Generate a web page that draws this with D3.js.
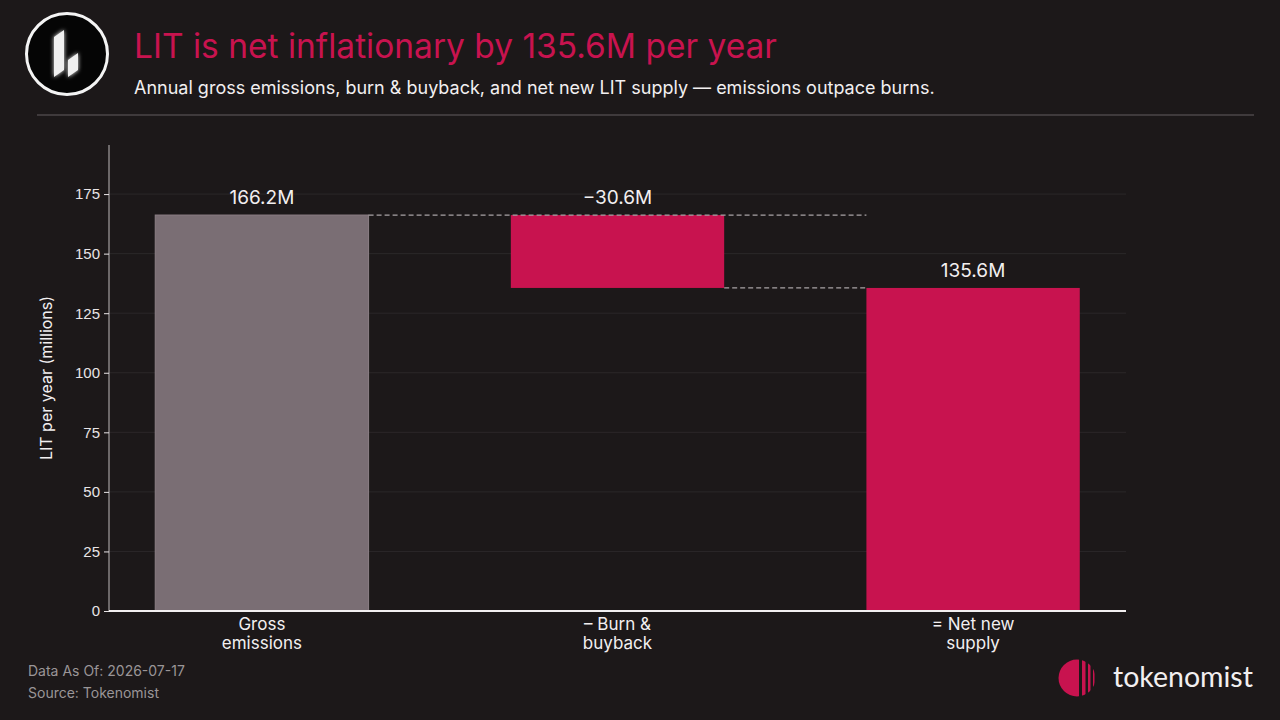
<!DOCTYPE html>
<head>
  <meta charset="utf-8">
  <style>
    body { margin: 0; background: #1c1819; }
    svg { display: block; font-family: Inter, 'Noto Sans', sans-serif; }
    .axis text { fill: #e8e4e6; font-size: 15px; }
  </style>
</head>
<body>
  <script src="https://cdn.jsdelivr.net/npm/d3@7"></script>
  <script>
    // chart data
    const categories = [["Gross", "emissions"], ["\u2013 Burn &", "buyback"], ["= Net new", "supply"]];
    const barBase = [0, 135.6, 0];
    const barTop = [166.2, 166.2, 135.6];
    const barLabels = ["166.2M", "\u221230.6M", "135.6M"];
    const barKinds = ["gross", "burn", "net"];
    const yTicks = [0, 25, 50, 75, 100, 125, 150, 175];
    const connectors = [{from: 0, to: 2, value: 166.2}, {from: 1, to: 2, value: 135.6}];

    const width = 1280, height = 720;
    const margin = {top: 145, right: 154, bottom: 109, left: 109};
    const innerWidth = width - margin.left - margin.right;
    const innerHeight = height - margin.top - margin.bottom;
    const barWidth = 0.6;
    const colors = {gross: "#7a6e74", burn: "#c8134f", net: "#c8134f"};

    const svg = d3.select("body").append("svg")
      .attr("width", width)
      .attr("height", height);

    svg.append("rect").attr("width", width).attr("height", height).attr("fill", "#1c1819");

    // ---------- header ----------
    const defs = svg.append("defs");
    const glow = defs.append("filter").attr("id", "glow")
      .attr("x", "-50%").attr("y", "-50%").attr("width", "200%").attr("height", "200%");
    glow.append("feGaussianBlur").attr("stdDeviation", 2).attr("result", "b");
    const merge = glow.append("feMerge");
    merge.append("feMergeNode").attr("in", "b");
    merge.append("feMergeNode").attr("in", "SourceGraphic");

    const logo = svg.append("g").attr("transform", "translate(67,54)");
    logo.append("circle").attr("r", 40.5).attr("fill", "#050505")
      .attr("stroke", "#f4f4f4").attr("stroke-width", 3);
    logo.append("path").attr("d", "M-13,-17 L-3,-24 L-3,16 L-13,23 Z")
      .attr("fill", "#f0f0f0").attr("filter", "url(#glow)");
    logo.append("path").attr("d", "M1,6 L11,-1 L11,16 L1,23 Z")
      .attr("fill", "#f0f0f0").attr("filter", "url(#glow)");

    svg.append("text").attr("x", 134).attr("y", 58)
      .attr("fill", "#c8134f").attr("font-size", 33.5)
      .text("LIT is net inflationary by 135.6M per year");
    svg.append("text").attr("x", 134).attr("y", 94)
      .attr("fill", "#f2eff0").attr("font-size", 18)
      .text("Annual gross emissions, burn & buyback, and net new LIT supply \u2014 emissions outpace burns.");
    svg.append("line").attr("x1", 37).attr("x2", 1254).attr("y1", 115).attr("y2", 115)
      .attr("stroke", "#3f3a3c").attr("stroke-width", 2);

    // ---------- chart ----------
    const g = svg.append("g").attr("transform", "translate(" + margin.left + "," + margin.top + ")");

    const xScale = d3.scaleLinear().domain([-0.43, 2.43]).range([0, innerWidth]);
    const yScale = d3.scaleLinear().domain([0, 195.6]).range([innerHeight, 0]);

    // grid
    g.append("g").selectAll("line").data(yTicks.slice(1)).enter().append("line")
      .attr("x1", 0).attr("x2", innerWidth)
      .attr("y1", d => yScale(d)).attr("y2", d => yScale(d))
      .attr("stroke", "#2b2729").attr("stroke-width", 1);

    // bars
    g.append("g").selectAll("rect").data(barTop).enter().append("rect")
      .attr("x", (d, i) => xScale(i - barWidth / 2))
      .attr("width", xScale(barWidth) - xScale(0))
      .attr("y", d => yScale(d))
      .attr("height", (d, i) => yScale(barBase[i]) - yScale(d))
      .attr("fill", (d, i) => colors[barKinds[i]])
      .attr("stroke", (d, i) => barKinds[i] === "gross" ? "#8c8086" : "none")
      .attr("stroke-width", 1);

    // connectors
    g.append("g").selectAll("line").data(connectors).enter().append("line")
      .attr("x1", d => xScale(d.from + barWidth / 2))
      .attr("x2", d => xScale(d.to - barWidth / 2))
      .attr("y1", d => yScale(d.value)).attr("y2", d => yScale(d.value))
      .attr("stroke", "#a8a2a5").attr("stroke-width", 1.2)
      .attr("stroke-dasharray", "5,3");

    // value labels
    g.append("g").selectAll("text").data(barLabels).enter().append("text")
      .attr("x", (d, i) => xScale(i))
      .attr("y", (d, i) => yScale(barTop[i]) - 11)
      .attr("text-anchor", "middle")
      .attr("fill", "#f2eff0").attr("font-size", 19)
      .text(d => d);

    // axes
    const yAxis = d3.axisLeft(yScale).tickValues(yTicks).tickSize(5).tickPadding(4);
    const ya = g.append("g").attr("class", "axis").call(yAxis);
    ya.select(".domain").attr("stroke", "#bdb8ba").attr("d", "M0,0V" + innerHeight);
    ya.selectAll(".tick line").attr("stroke", "#e8e4e6");

    g.append("line").attr("x1", 0).attr("x2", innerWidth)
      .attr("y1", innerHeight).attr("y2", innerHeight)
      .attr("stroke", "#f2eff0").attr("stroke-width", 2);

    const xl = g.append("g").selectAll("text").data(categories).enter().append("text")
      .attr("x", (d, i) => xScale(i))
      .attr("y", innerHeight + 19)
      .attr("text-anchor", "middle")
      .attr("fill", "#f2eff0").attr("font-size", 17);
    xl.selectAll("tspan").data(d => d).enter().append("tspan")
      .attr("x", function () { return d3.select(this.parentNode).attr("x"); })
      .attr("dy", (d, j) => j === 0 ? 0 : 19)
      .text(d => d);

    g.append("text")
      .attr("transform", "translate(-57," + (innerHeight / 2) + ") rotate(-90)")
      .attr("text-anchor", "middle")
      .attr("fill", "#f2eff0").attr("font-size", 16)
      .text("LIT per year (millions)");

    // ---------- footer ----------
    svg.append("text").attr("x", 28).attr("y", 676)
      .attr("fill", "#9a9597").attr("font-size", 14).text("Data As Of: 2026-07-17");
    svg.append("text").attr("x", 28).attr("y", 698)
      .attr("fill", "#9a9597").attr("font-size", 14).text("Source: Tokenomist");

    const tk = svg.append("g").attr("transform", "translate(1077,678)");
    const clip = defs.append("clipPath").attr("id", "tkclip");
    clip.append("circle").attr("r", 18.5);
    const tkg = tk.append("g").attr("clip-path", "url(#tkclip)");
    tkg.append("rect").attr("x", -19).attr("y", -19).attr("width", 21).attr("height", 38).attr("fill", "#c8134f");
    [[5, 3.5], [11, 2.5], [16, 1.5]].forEach(s => {
      tkg.append("rect").attr("x", s[0]).attr("y", -19).attr("width", s[1]).attr("height", 38).attr("fill", "#c8134f");
    });
    svg.append("text").attr("x", 1113).attr("y", 687)
      .attr("fill", "#f2eff0").attr("font-size", 28.5).attr("font-family", "Lato, Inter, sans-serif")
      .text("tokenomist");
  </script>
</body>
